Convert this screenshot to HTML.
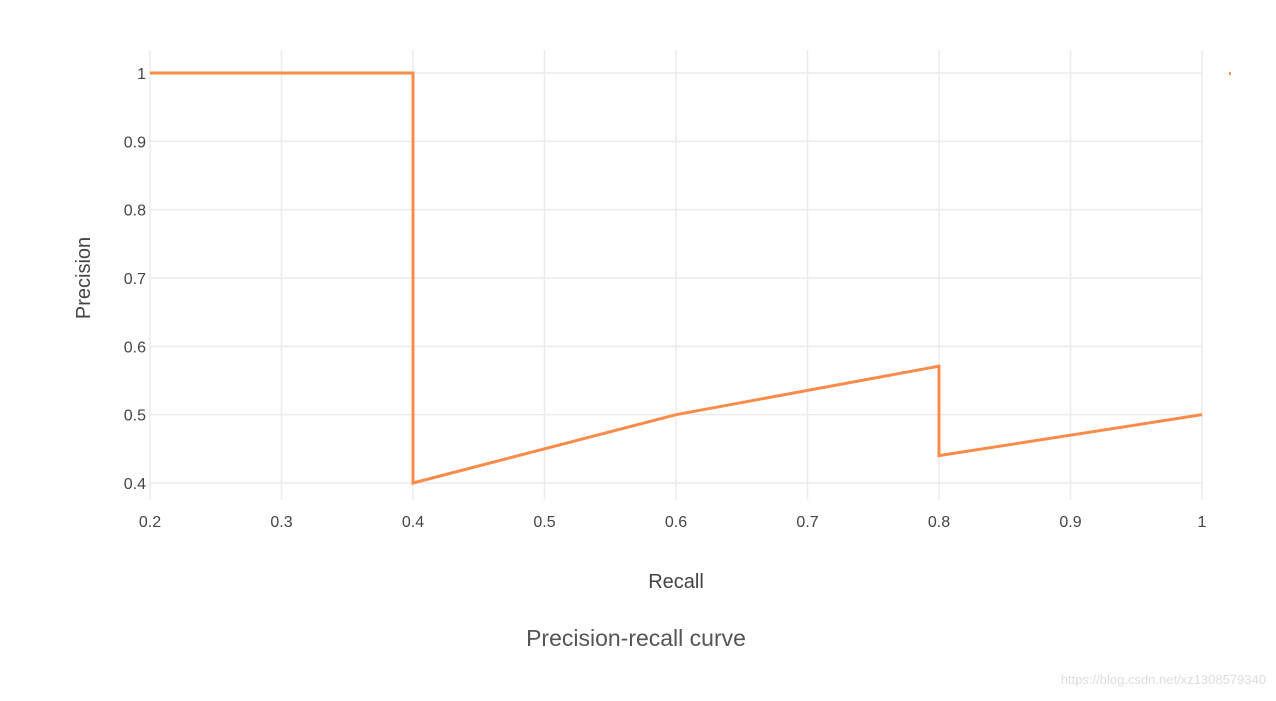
<!DOCTYPE html>
<html><head><meta charset="utf-8"><style>
body{margin:0;background:#fff;width:1276px;height:696px;overflow:hidden;font-family:"Liberation Sans",sans-serif}
</style></head><body>
<svg width="1276" height="696">
<g id="grid"></g><g id="ticks"></g>
<text x="676" y="588" text-anchor="middle" font-size="20" fill="#444">Recall</text>
<text transform="translate(90,278) rotate(-90)" text-anchor="middle" font-size="20" fill="#444">Precision</text>
<text x="636" y="646" text-anchor="middle" font-size="23" fill="#555">Precision-recall curve</text>
<text x="1266" y="684" text-anchor="end" font-size="13" fill="#ddd">https://blog.csdn.net/xz1308579340</text>
<rect x="1229" y="72" width="2" height="3" fill="#fa8c4b"/>
<path id="curve" fill="none" stroke="#fa8c4b" stroke-width="3"/>
</svg>
<script>
const recall=[0.2,0.4,0.4,0.6,0.8,0.8,1.0];
const precision=[1,1,0.4,0.5,0.571,0.44,0.5];
const xTicks=[0.2,0.3,0.4,0.5,0.6,0.7,0.8,0.9,1];
const yTicks=[0.4,0.5,0.6,0.7,0.8,0.9,1];
const X=v=>150+(v-0.2)/0.8*1052;
const Y=v=>483-(v-0.4)/0.6*410;
const ns="http://www.w3.org/2000/svg";
const g=document.getElementById('grid'),t=document.getElementById('ticks');
function mk(p,tag,a){const e=document.createElementNS(ns,tag);for(const k in a)e.setAttribute(k,a[k]);p.appendChild(e);return e;}
xTicks.forEach(v=>{
 const l=mk(g,'line',{x1:X(v),x2:X(v),y1:50,y2:500,stroke:'#ebebeb','stroke-width':1.5});
 
 
 const s=mk(t,'text',{x:X(v),y:527,'text-anchor':'middle','font-size':16,fill:'#444'});s.textContent=String(v);
 
 
});
yTicks.forEach(v=>{
 const l=mk(g,'line',{x1:150,x2:1202,y1:Y(v),y2:Y(v),stroke:'#ebebeb','stroke-width':1.5});
 
 
 const s=mk(t,'text',{x:146,y:Y(v)+6,'text-anchor':'end','font-size':16,fill:'#444'});s.textContent=String(v);
 
 
});
document.getElementById('curve').setAttribute('d',recall.map((r,i)=>(i?'L':'M')+X(r)+','+Y(precision[i])).join(''));
</script>
</body></html>
